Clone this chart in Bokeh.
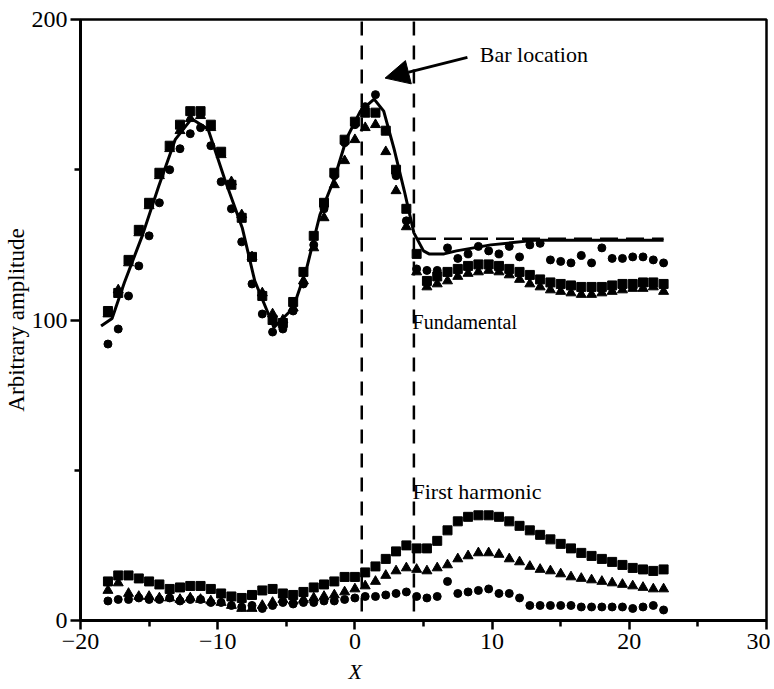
from bokeh.plotting import figure
from bokeh.models import Range1d, FixedTicker, Label, Arrow, NormalHead, Title
from bokeh.embed import file_html
from bokeh.resources import INLINE

# ---------------- data ----------------
x_pos = [-18, -17.25, -16.5, -15.75, -15, -14.25, -13.5, -12.75, -12, -11.25,
         -10.5, -9.75, -9, -8.25, -7.5, -6.75, -6, -5.25, -4.5, -3.75,
         -3, -2.25, -1.5, -0.75, 0, 0.75, 1.5, 2.25, 3, 3.75,
         4.5, 5.25, 6, 6.75, 7.5, 8.25, 9, 9.75, 10.5, 11.25,
         12, 12.75, 13.5, 14.25, 15, 15.75, 16.5, 17.25, 18, 18.75,
         19.5, 20.25, 21, 21.75, 22.5]

fund_squares = [103, 109, 120, 130, 139, 149, 158, 165, 169.5, 169.5,
                165, 156, 145, 134, 121, 108, 100, 99, 106, 116,
                128, 139, 149, 160, 166, 169, 169, 163, 150, 137,
                122, 113, 114.5, 116, 117, 118, 118.5, 118.5, 118, 117,
                116, 115, 113.5, 112.5, 112, 111.5, 111, 111, 111, 111.5,
                112, 112, 112.5, 112.5, 112]
fund_triangles = [102, 110, 119, 129, 138, 148, 157, 163, 167, 168,
                  164, 155, 146, 135, 121, 109, 102, 100, 104, 113,
                  124, 134, 145, 153, 160, 164, 165, 156, 143, 131,
                  116, 111, 112, 113, 114.5, 115.5, 116, 116.5, 116, 115,
                  113.5, 112, 111, 110, 109.5, 109, 108.5, 108.5, 109, 109.5,
                  110, 110.5, 110.5, 111, 109.5]
fund_circles = [92, 97, 108, 118, 128, 139, 150, 157, 162, 164,
                158, 146, 137, 126, 112, 102, 96, 97, 103, 112,
                125, 137, 148, 159, 165, 171, 175, 163, 148, 133,
                117, 116.5, 116.5, 124, 120.5, 122, 124.5, 123, 122, 124.5,
                121, 125, 125.5, 120, 119.5, 119, 121.5, 119, 124, 120.5,
                120.5, 121, 121, 120, 119]

harm_squares = [13, 15, 15, 14, 13, 12, 10.5, 11, 11.5, 11.5,
                10.5, 9, 8, 7.5, 8.5, 10, 10.5, 9, 8.5, 9.5,
                11, 12, 13, 14.5, 14.5, 16, 18, 20.5, 23, 25,
                24, 24, 26.5, 30, 33, 34.5, 35, 35, 34.5, 33,
                31.5, 30, 28.5, 27, 25.5, 24, 22.5, 21.5, 20.5, 19.5,
                18.5, 17.5, 17, 16.5, 17]
harm_triangles = [10, 12.5, 9, 8, 8, 7.5, 7.5, 7, 7.5, 7,
                  6.5, 6, 5, 4, 4, 5, 6, 7, 6.5, 7,
                  7.5, 8, 8.5, 9.5, 10.5, 11.5, 13, 15, 16.5, 17.5,
                  17, 16.5, 17.5, 18.5, 20.5, 21.5, 22.5, 22.5, 22, 20.5,
                  19.5, 18, 17, 16.5, 15.5, 14.5, 14, 13.5, 13, 12.5,
                  12, 11.5, 11, 10.5, 10.5]
harm_circles = [6.5, 7, 7, 7.5, 7, 7, 7.5, 6.5, 7, 7,
                6, 6, 5, 4.5, 5, 4, 5, 6, 5.5, 6,
                6, 6.5, 6.5, 7, 7.5, 8, 8, 8.5, 9, 9.5,
                8, 7.5, 8, 13, 9, 9.5, 10, 10.5, 9, 9,
                7.5, 5, 5, 5, 5, 5, 4.5, 4.5, 4.5, 4.5,
                4.5, 4, 4.5, 5, 3.5]

# theory (solid curve) for the fundamental
theory_x = [-18.5, -17.7, -16.8, -15.5, -14.3, -13.1, -11.9, -10.7, -9.5, -8.2,
            -7.3, -5.9, -4.5, -3.5, -2.55, -1.5, -0.6, 0.4, 1.4, 2.1,
            2.85, 3.6, 4.3, 5.0, 5.4, 6.5, 7.4, 9.9, 13.1, 22.5]
theory_y = [98, 100.5, 112.5, 128, 144.5, 160, 167, 163.5, 147, 130.5,
            113, 97.5, 104, 117.5, 135, 147, 160.5, 169.5, 173.5, 169.5,
            157, 143, 129, 123, 122, 122, 123, 125, 126.5, 126.5]

# dashed reference level and bar edges
level_x = [4.6, 22.5]
level_y = [127, 127]
bar_edges = [0.5, 4.3]
bar_span_y = [3, 200]

x_ticks = [-20, -10, 0, 10, 20, 30]
x_minor = [-15, -5, 5, 15, 25]
y_ticks = [0, 100, 200]
y_minor = [50, 150]

FONT = "Liberation Serif"

p = figure(width=770, height=689, output_backend="svg", toolbar_location=None,
           x_range=Range1d(-20, 30), y_range=Range1d(0, 200),
           min_border_left=80, min_border_right=4, min_border_top=19,
           min_border_bottom=69)
p.background_fill_color = "white"
p.border_fill_color = "white"
p.outline_line_color = "black"
p.outline_line_width = 2.5
p.xgrid.visible = False
p.ygrid.visible = False

for ax, ticks, minor in ((p.xaxis[0], x_ticks, x_minor), (p.yaxis[0], y_ticks, y_minor)):
    ax.ticker = FixedTicker(ticks=ticks, minor_ticks=minor)
    ax.axis_line_width = 3
    ax.axis_line_color = "black"
    ax.major_tick_line_width = 2.5
    ax.minor_tick_line_width = 2.5
    ax.major_tick_in = 0
    ax.minor_tick_in = 0
    ax.major_label_text_font = FONT
    ax.major_label_text_font_size = "24px"
    ax.major_label_text_color = "black"

p.xaxis[0].major_tick_out = 9
p.xaxis[0].minor_tick_out = 6
p.xaxis[0].major_label_standoff = 4
p.yaxis[0].major_tick_out = 10
p.yaxis[0].minor_tick_out = 6
p.yaxis[0].major_label_standoff = 3

p.xaxis[0].major_label_overrides = {t: (("\u2212" + str(abs(t))) if t < 0 else str(t)) for t in x_ticks}

p.yaxis[0].axis_label = "Arbitrary amplitude"
p.yaxis[0].axis_label_text_font = FONT
p.yaxis[0].axis_label_text_font_size = "23px"
p.yaxis[0].axis_label_text_font_style = "normal"
p.yaxis[0].axis_label_text_color = "black"
p.yaxis[0].axis_label_standoff = 0

# x-axis label sits under x = 0, so it is a title panel below the axis
p.add_layout(Title(text="X", align="left", offset=268, standoff=10,
                   text_font=FONT, text_font_size="22px",
                   text_font_style="italic", text_color="black"), "below")

# bar location dashed lines
for xe in bar_edges:
    p.line([xe, xe], bar_span_y, line_color="black", line_width=2.5, line_dash="14 10")

p.line(level_x, level_y, line_color="black", line_width=2.5, line_dash="18 8")
p.line(theory_x, theory_y, line_color="black", line_width=3)

for ys in (fund_squares, harm_squares):
    p.scatter(x_pos, ys, marker="square", size=9, color="black")
for ys in (fund_triangles, harm_triangles):
    p.scatter(x_pos, ys, marker="triangle", size=10, color="black")
for ys in (fund_circles, harm_circles):
    p.scatter(x_pos, ys, marker="circle", size=8, color="black")

p.add_layout(Arrow(end=NormalHead(size=24, fill_color="black", line_color="black"),
                   x_start=8.2, y_start=187.4, x_end=2.2, y_end=180.5,
                   line_width=3, line_color="black"))

def lab(x, y, text, size="22px", **kw):
    opts = dict(text_font=FONT, text_font_size=size, text_color="black",
                text_baseline="middle")
    opts.update(kw)
    p.add_layout(Label(x=x, y=y, text=text, **opts))

lab(9.1, 188.4, "Bar location")
lab(4.2, 99.3, "Fundamental", size="20px")
lab(4.2, 43, "First harmonic")

open("out.html", "w").write(file_html(p, INLINE))
